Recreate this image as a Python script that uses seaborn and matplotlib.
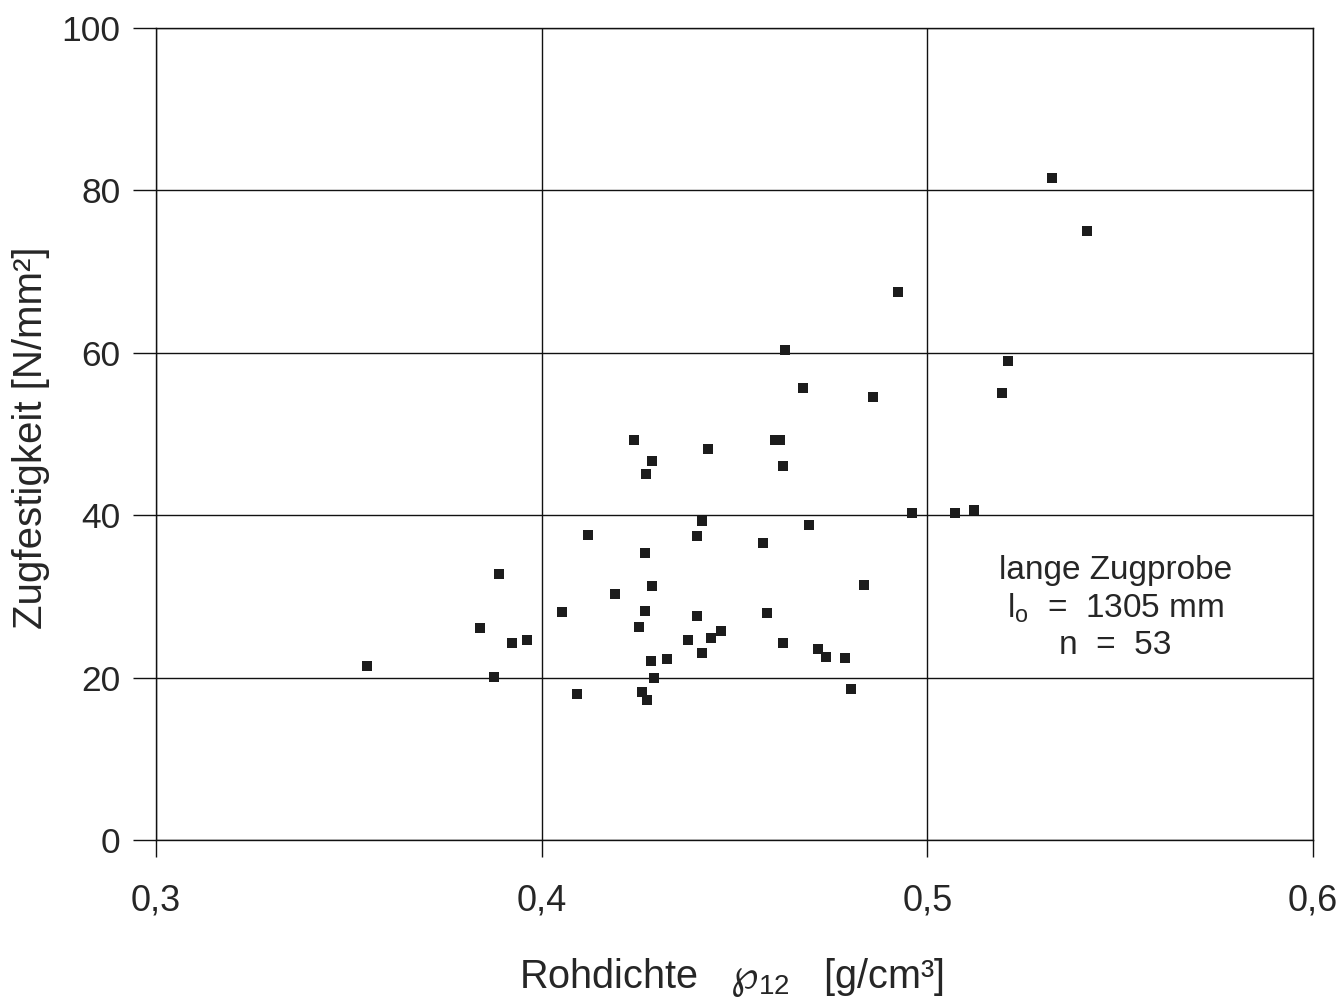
import matplotlib
matplotlib.use("Agg")
import matplotlib.pyplot as plt
import seaborn as sns
import pandas as pd

# Data (Rohdichte rho12 [g/cm3], Zugfestigkeit [N/mm2])
rohdichte = [0.3547, 0.384, 0.3877, 0.389, 0.3923, 0.3962, 0.4053, 0.4092, 0.4121, 0.4191,
             0.424, 0.4253, 0.4261, 0.4271, 0.4269, 0.4269, 0.4274, 0.4287, 0.4287, 0.4284,
             0.4292, 0.4326, 0.438, 0.4404, 0.4404, 0.4417, 0.4417, 0.4432, 0.444, 0.4464,
             0.4573, 0.4583, 0.4604, 0.4617, 0.4625, 0.4625, 0.463, 0.4677, 0.4692, 0.4716,
             0.4736, 0.4786, 0.4801, 0.4835, 0.4858, 0.4923, 0.496, 0.5071, 0.5121, 0.5193,
             0.5209, 0.5323, 0.5414]
zugfestigkeit = [21.4, 26.1, 20.1, 32.7, 24.3, 24.6, 28.1, 18.0, 37.6, 30.3,
                 49.3, 26.2, 18.2, 45.1, 35.4, 28.2, 17.3, 46.7, 31.3, 22.0,
                 20.0, 22.3, 24.6, 37.5, 27.6, 39.3, 23.0, 48.1, 24.9, 25.7,
                 36.6, 28.0, 49.2, 49.2, 46.0, 24.3, 60.3, 55.7, 38.8, 23.5,
                 22.5, 22.4, 18.6, 31.4, 54.5, 67.5, 40.3, 40.3, 40.6, 55.1,
                 59.0, 81.5, 75.0]

x_ticks = [0.3, 0.4, 0.5, 0.6]
x_tick_labels = ["0,3", "0,4", "0,5", "0,6"]
y_ticks = [0, 20, 40, 60, 80, 100]
y_tick_labels = ["0", "20", "40", "60", "80", "100"]

sns.set_style("white")
plt.rcParams["font.family"] = ["Liberation Sans", "DejaVu Sans"]
plt.rcParams["mathtext.fontset"] = "dejavusans"

df = pd.DataFrame({"x": rohdichte, "y": zugfestigkeit})

fig = plt.figure(figsize=(13.41, 10.07), dpi=100)
ax = fig.add_axes([156 / 1341, 1 - 840 / 1007, (1313 - 156) / 1341, (840 - 28) / 1007])

sns.scatterplot(data=df, x="x", y="y", marker="s", s=48, color="#1c1c1c",
                linewidth=0, ax=ax, zorder=3)

ax.set_xlim(0.3, 0.6)
ax.set_ylim(0, 100)
ax.set_xticks(x_ticks)
ax.set_xticklabels(x_tick_labels)
ax.set_yticks(y_ticks)
ax.set_yticklabels(y_tick_labels)

ax.grid(True, color="#111111", linewidth=1.0)
for sp in ax.spines.values():
    sp.set_visible(True)
    sp.set_color("#111111")
    sp.set_linewidth(1.0)

ax.tick_params(axis="y", direction="out", length=16.5, width=1.0, pad=9,
               labelsize=25.5, color="#111111", left=True)
ax.tick_params(axis="x", direction="out", length=12, width=1.0, pad=19,
               labelsize=26, color="#111111", bottom=True)

ax.set_xlabel("Rohdichte   $\\wp_{\\mathregular{12}}$   [g/cm³]", fontsize=28.5)
ax.xaxis.set_label_coords(0.497, -0.143)
ax.set_ylabel("Zugfestigkeit [N/mm²]", fontsize=29)
ax.yaxis.set_label_coords(-0.0916, 0.495)

ax.text(0.5487, 28.6, "lange Zugprobe\nl$_\\mathregular{o}$  =  1305 mm\nn  =  53",
        ha="center", va="center", multialignment="center", fontsize=24,
        linespacing=1.2, zorder=4)

fig.savefig("out.png", dpi=100, facecolor="white")
